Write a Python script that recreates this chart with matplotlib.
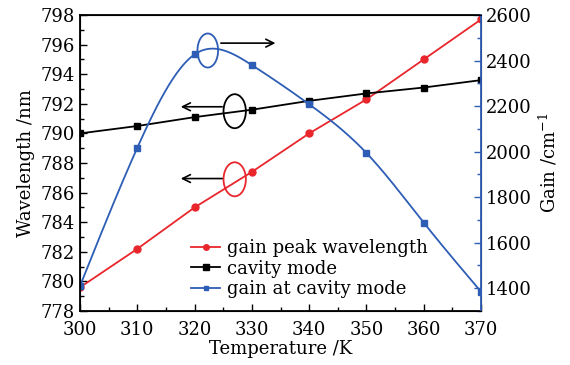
import numpy as np
from matplotlib import pyplot as plt
from matplotlib.patches import Ellipse
from matplotlib.ticker import MultipleLocator

temperature = [300, 310, 320, 330, 340, 350, 360, 370]
gain_peak_wl = [779.6, 782.2, 785.0, 787.4, 790.0, 792.3, 795.0, 797.7]
cavity_mode = [790.0, 790.5, 791.1, 791.6, 792.2, 792.7, 793.1, 793.6]
gain_cavity = [1410, 2017, 2427, 2380, 2208, 1994, 1688, 1385]

RED = '#e8262c'
BLUE = '#2d5db5'

plt.rcParams['font.family'] = ['DejaVu Serif']
plt.rcParams['font.size'] = 13
plt.rcParams['mathtext.fontset'] = 'dejavuserif'


def smooth(x, y, n=300):
	# natural cubic spline for the drawn curve
	x = np.asarray(x, float)
	y = np.asarray(y, float)
	k = len(x)
	h = np.diff(x)
	A = np.zeros((k, k))
	b = np.zeros(k)
	A[0, 0] = A[-1, -1] = 1
	for i in range(1, k - 1):
		A[i, i - 1] = h[i - 1]
		A[i, i] = 2 * (h[i - 1] + h[i])
		A[i, i + 1] = h[i]
		b[i] = 6 * ((y[i + 1] - y[i]) / h[i] - (y[i] - y[i - 1]) / h[i - 1])
	m = np.linalg.solve(A, b)
	xs = np.linspace(x[0], x[-1], n)
	idx = np.clip(np.searchsorted(x, xs) - 1, 0, k - 2)
	x0, x1 = x[idx], x[idx + 1]
	hh = x1 - x0
	t0, t1 = x1 - xs, xs - x0
	ys = (m[idx] * t0**3 + m[idx + 1] * t1**3) / (6 * hh) \
		+ (y[idx] / hh - m[idx] * hh / 6) * t0 + (y[idx + 1] / hh - m[idx + 1] * hh / 6) * t1
	return xs, ys


fig = plt.figure(figsize=(5.7, 3.65), dpi=100)
ax = fig.add_axes([0.1404, 0.1479, 0.7035, 0.811])
ax2 = ax.twinx()

l1, = ax.plot(temperature, gain_peak_wl, color=RED, marker='o', ms=5, lw=1.3, label='gain peak wavelength')
l2, = ax.plot(temperature, cavity_mode, color='black', marker='s', ms=5, lw=1.3, label='cavity mode')
xs, ys = smooth(temperature, gain_cavity)
ax2.plot(xs, ys, color=BLUE, lw=1.3)
ax2.plot(temperature, gain_cavity, color=BLUE, marker='s', ms=5, ls='none')
l3, = ax2.plot([], [], color=BLUE, marker='s', ms=4, lw=1.3, label='gain at cavity mode')

ax.set_xlim(300, 370)
ax.set_ylim(778, 798)
ax2.set_ylim(1300, 2600)
ax.xaxis.set_major_locator(MultipleLocator(10))
ax.xaxis.set_minor_locator(MultipleLocator(5))
ax.yaxis.set_major_locator(MultipleLocator(2))
ax.yaxis.set_minor_locator(MultipleLocator(1))
ax2.yaxis.set_major_locator(MultipleLocator(200))
ax2.yaxis.set_minor_locator(MultipleLocator(100))

ax.tick_params(which='both', direction='in', top=False, right=False)
ax.tick_params(which='major', length=5, width=1)
ax.tick_params(which='minor', length=3, width=1)
ax.tick_params(axis='x', pad=7)
ax2.tick_params(which='both', direction='in', color=BLUE)
ax2.tick_params(which='major', length=5, width=1)
ax2.tick_params(which='minor', length=3, width=1)
ax2.spines['right'].set_color(BLUE)
ax2.spines['right'].set_linewidth(1.3)
for s in ['left', 'bottom', 'top']:
	ax.spines[s].set_linewidth(1.3)

ax.set_xlabel('Temperature /K', labelpad=1)
ax.set_ylabel('Wavelength /nm', labelpad=4)
ax2.set_ylabel('Gain /cm$^{-1}$', labelpad=4)

# annotation ellipses and arrows
ax.add_patch(Ellipse((322.3, 795.6), 3.6, 2.3, fill=False, ec=BLUE, lw=1.3))
ax.add_patch(Ellipse((327.0, 791.5), 3.9, 2.3, fill=False, ec='black', lw=1.3))
ax.add_patch(Ellipse((327.0, 786.9), 3.9, 2.3, fill=False, ec=RED, lw=1.3))
arrow = dict(arrowstyle='->', color='black', lw=1.2, mutation_scale=14)
ax.annotate('', xy=(334.6, 796.1), xytext=(324.1, 796.1), arrowprops=arrow)
ax.annotate('', xy=(317.1, 791.8), xytext=(325.3, 791.8), arrowprops=arrow)
ax.annotate('', xy=(317.1, 786.95), xytext=(325.3, 786.95), arrowprops=arrow)

ax.legend(handles=[l1, l2, l3], loc='lower right', bbox_to_anchor=(0.9, 0.0), frameon=False,
	handlelength=1.6, handletextpad=0.4, labelspacing=0.15, borderpad=0.2, markerscale=0.8)

fig.savefig('out.png', dpi=100)
